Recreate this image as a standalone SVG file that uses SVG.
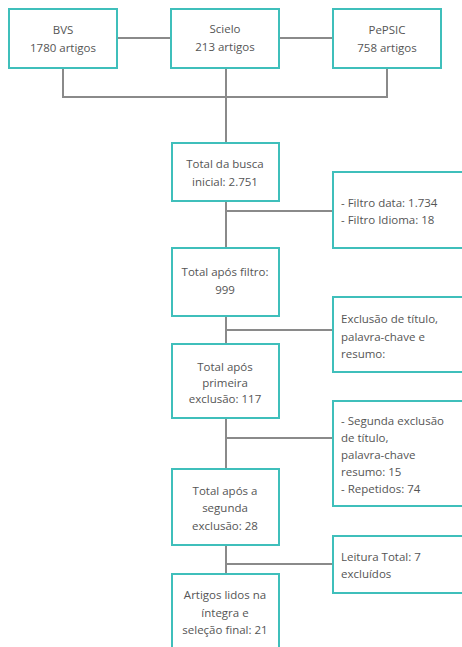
<svg xmlns="http://www.w3.org/2000/svg" width="462" height="647" viewBox="0 0 462 647">
<style>
.box{fill:#fff;stroke:#3fbfbb;stroke-width:2}
.ln{fill:none;stroke:#8a8a8a;stroke-width:2}
text{font-family:"Open Sans","Noto Sans","DejaVu Sans",sans-serif;font-size:11.5px;fill:#555}
.c{text-anchor:middle}
</style>
<rect width="462" height="647" fill="#fff"/>
<g id="connectors">
<path class="ln" d="M117 38H171M279 38H333"/>
<path class="ln" d="M63 68V97H387V68"/>
<path class="ln" d="M226 68V143"/>
<path class="ln" d="M226 201V248M226 211H333"/>
<path class="ln" d="M226 316V344M226 330H333"/>
<path class="ln" d="M226 418V469M226 438H333"/>
<path class="ln" d="M226 545V574M226 564H333"/>
</g>
<g id="bvs"><rect class="box" x="9" y="9" width="108" height="59"/>
<text class="c" x="63" y="34">BVS</text><text class="c" x="63" y="52">1780 artigos</text></g>
<g id="scielo"><rect class="box" x="171" y="9" width="108" height="59"/>
<text class="c" x="225" y="33">Scielo</text><text class="c" x="225" y="51">213 artigos</text></g>
<g id="pepsic"><rect class="box" x="333" y="9" width="108" height="59"/>
<text class="c" x="387" y="34">PePSIC</text><text class="c" x="387" y="52">758 artigos</text></g>
<g id="busca"><rect class="box" x="172" y="143" width="107" height="58"/>
<text class="c" x="225" y="168">Total da busca</text><text class="c" x="225" y="186">inicial: 2.751</text></g>
<g id="filtros"><rect class="box" x="333" y="172" width="140" height="76"/>
<text x="341" y="207">- Filtro data: 1.734</text><text x="341" y="224">- Filtro Idioma: 18</text></g>
<g id="aposfiltro"><rect class="box" x="172" y="248" width="107" height="68"/>
<text class="c" x="225" y="276">Total após filtro:</text><text class="c" x="225" y="294">999</text></g>
<g id="exclusao1"><rect class="box" x="333" y="297" width="140" height="75"/>
<text x="341" y="323">Exclusão de título,</text><text x="341" y="341">palavra-chave e</text><text x="341" y="358">resumo:</text></g>
<g id="primeira"><rect class="box" x="172" y="344" width="107" height="74"/>
<text class="c" x="225" y="371">Total após</text><text class="c" x="225" y="387">primeira</text><text class="c" x="225" y="403">exclusão: 117</text></g>
<g id="exclusao2"><rect class="box" x="333" y="401" width="140" height="105"/>
<text x="341" y="425">- Segunda exclusão</text><text x="341" y="442">de título,</text><text x="341" y="459">palavra-chave</text><text x="341" y="476">resumo: 15</text><text x="341" y="493">- Repetidos: 74</text></g>
<g id="segunda"><rect class="box" x="172" y="469" width="107" height="76"/>
<text class="c" x="225" y="495">Total após a</text><text class="c" x="225" y="512">segunda</text><text class="c" x="225" y="530">exclusão: 28</text></g>
<g id="leitura"><rect class="box" x="333" y="536" width="140" height="57"/>
<text x="341" y="561">Leitura Total: 7</text><text x="341" y="578">excluídos</text></g>
<g id="final"><rect class="box" x="172" y="574" width="107" height="90"/>
<text class="c" x="225" y="599">Artigos lidos na</text><text class="c" x="225" y="617">íntegra e</text><text class="c" x="225" y="634">seleção final: 21</text></g>
</svg>
